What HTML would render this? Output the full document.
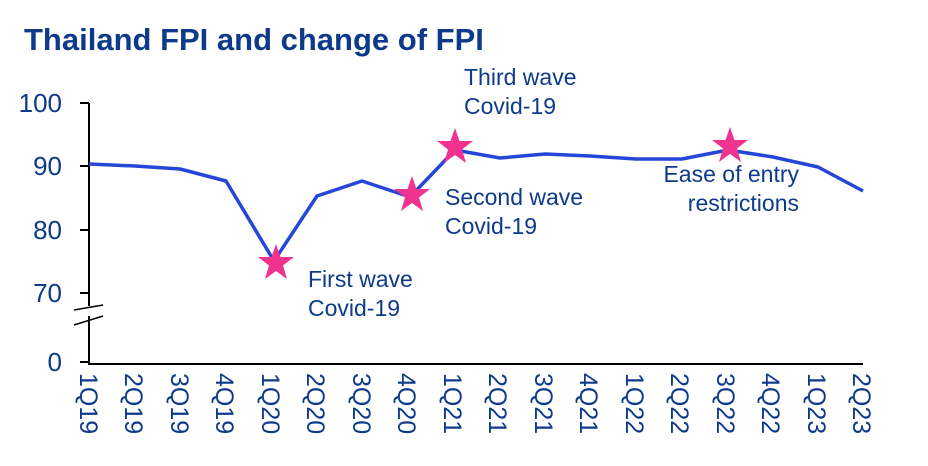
<!DOCTYPE html>
<html><head><meta charset="utf-8"><style>
html,body{margin:0;padding:0;background:#fff;}
svg text{font-family:"Liberation Sans",Arial,sans-serif;fill:#0d3a8a;}
</style></head><body>
<svg width="928" height="461" viewBox="0 0 928 461" xmlns="http://www.w3.org/2000/svg">
<text x="24" y="50" font-size="31" font-weight="bold">Thailand FPI and change of FPI</text>
<g stroke="#000" stroke-width="2" fill="none">
<line x1="89" y1="103" x2="89" y2="364"/>
<line x1="88" y1="364" x2="863" y2="364"/>
<line x1="80" y1="103" x2="89" y2="103"/>
<line x1="80" y1="166" x2="89" y2="166"/>
<line x1="80" y1="230" x2="89" y2="230"/>
<line x1="80" y1="293" x2="89" y2="293"/>
<line x1="80" y1="362" x2="89" y2="362"/>
</g>
<rect x="74" y="306" width="30" height="10" fill="#fff"/>
<g stroke="#000" stroke-width="1.5"><line x1="74" y1="310" x2="103" y2="305"/><line x1="74" y1="325" x2="103" y2="316"/></g>
<g font-size="26" text-anchor="end">
<text x="62" y="112">100</text><text x="62" y="175">90</text><text x="62" y="239">80</text><text x="62" y="302">70</text><text x="62" y="371">0</text>
</g>
<polyline fill="none" stroke="#2546d8" stroke-width="3.5" stroke-linejoin="round" points="89,164 135,166 180,169 226,181 274,261 317,196 362,181 410,197 455,150 500,158 545,154 590,156 636,159 682,159 728,150 773,157 818,167 863,191"/>
<g fill="#f0338f">
<polygon points="0,-19 4.5,-6 18,-6 7,2.5 11,16 0,8 -11,16 -7,2.5 -18,-6 -4.5,-6" transform="translate(276,263)"/>
<polygon points="0,-19 4.5,-6 18,-6 7,2.5 11,16 0,8 -11,16 -7,2.5 -18,-6 -4.5,-6" transform="translate(412,195)"/>
<polygon points="0,-19 4.5,-6 18,-6 7,2.5 11,16 0,8 -11,16 -7,2.5 -18,-6 -4.5,-6" transform="translate(455,147)"/>
<polygon points="0,-19 4.5,-6 18,-6 7,2.5 11,16 0,8 -11,16 -7,2.5 -18,-6 -4.5,-6" transform="translate(730,146)"/>
</g>
<g font-size="23">
<text x="308" y="287">First wave</text><text x="308" y="316">Covid-19</text>
<text x="445" y="205">Second wave</text><text x="445" y="234">Covid-19</text>
<text x="464" y="85">Third wave</text><text x="464" y="114">Covid-19</text>
<text x="799" y="182" text-anchor="end">Ease of entry</text><text x="799" y="211" text-anchor="end">restrictions</text>
</g>
<g font-size="25">
<text transform="translate(80,373) rotate(90)">1Q19</text>
<text transform="translate(125,373) rotate(90)">2Q19</text>
<text transform="translate(171,373) rotate(90)">3Q19</text>
<text transform="translate(216,373) rotate(90)">4Q19</text>
<text transform="translate(262,373) rotate(90)">1Q20</text>
<text transform="translate(307,373) rotate(90)">2Q20</text>
<text transform="translate(353,373) rotate(90)">3Q20</text>
<text transform="translate(398,373) rotate(90)">4Q20</text>
<text transform="translate(444,373) rotate(90)">1Q21</text>
<text transform="translate(489,373) rotate(90)">2Q21</text>
<text transform="translate(535,373) rotate(90)">3Q21</text>
<text transform="translate(580,373) rotate(90)">4Q21</text>
<text transform="translate(626,373) rotate(90)">1Q22</text>
<text transform="translate(671,373) rotate(90)">2Q22</text>
<text transform="translate(717,373) rotate(90)">3Q22</text>
<text transform="translate(762,373) rotate(90)">4Q22</text>
<text transform="translate(808,373) rotate(90)">1Q23</text>
<text transform="translate(853,373) rotate(90)">2Q23</text>
</g>
</svg>
</body></html>
